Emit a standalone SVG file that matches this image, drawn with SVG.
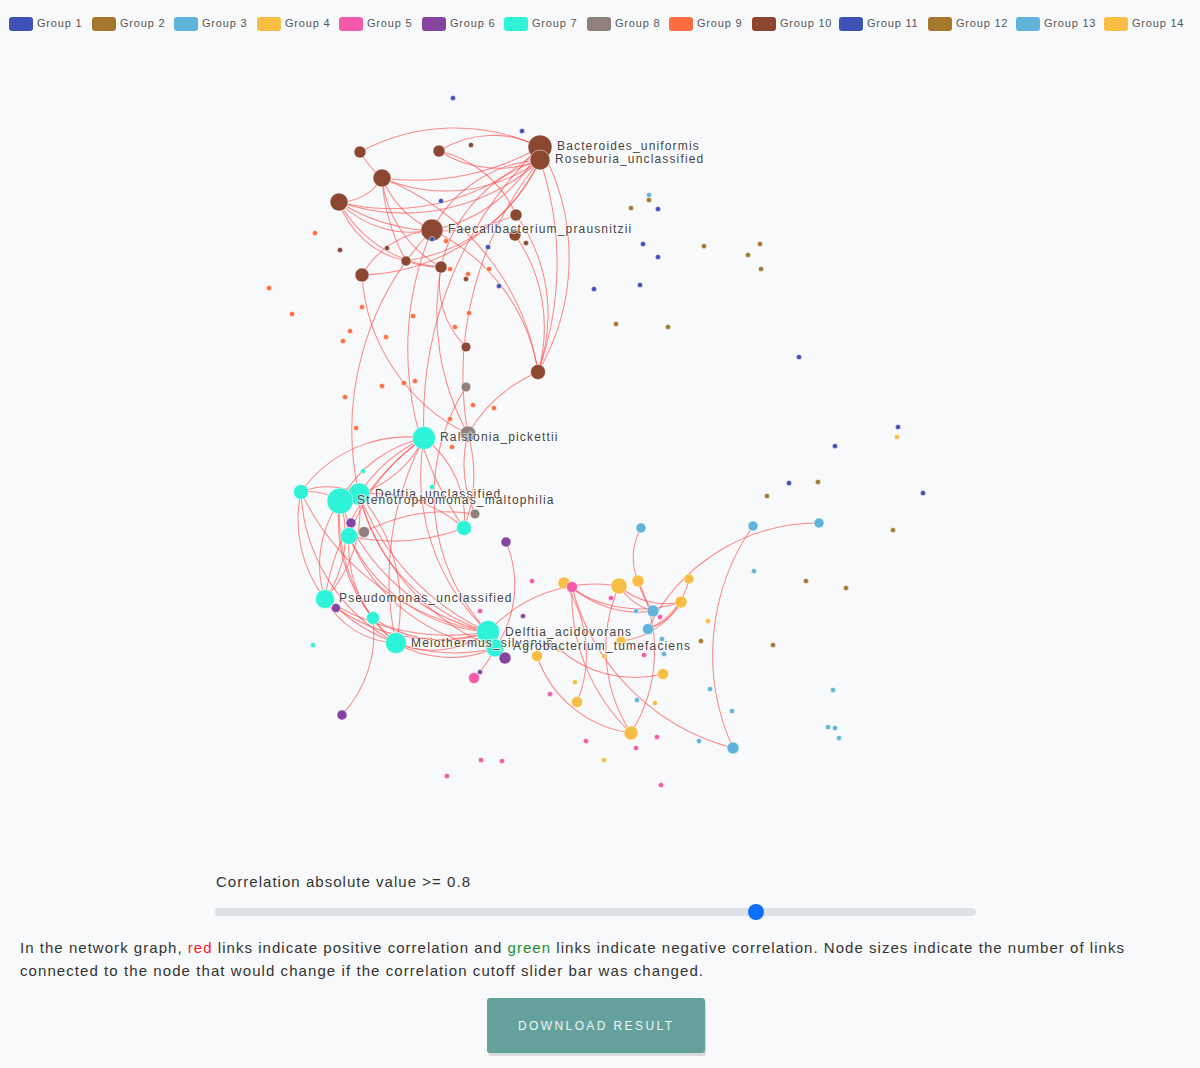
<svg xmlns="http://www.w3.org/2000/svg" width="1200" height="1068" viewBox="0 0 1200 1068">
<style>
.lg{font-family:"Liberation Sans",Arial,sans-serif;font-size:11px;fill:#555;letter-spacing:0.8px}
.l{fill:none;stroke:#ff4545;stroke-opacity:0.62;stroke-width:1.05}
.n{stroke:#fff;stroke-width:0.8;stroke-opacity:0.6}
.g1{fill:#3f51b5}.g2{fill:#a5782e}.g3{fill:#60b4d9}.g4{fill:#f8bd45}.g5{fill:#f45aa9}.g6{fill:#8544a1}.g7{fill:#2ff3d8}.g8{fill:#917f7c}.g9{fill:#fe6e40}.g10{fill:#8c4731}
.lab{font-family:"Liberation Sans",Arial,sans-serif;font-size:12px;fill:#444;letter-spacing:1.15px;stroke:#fff;stroke-width:2px;stroke-opacity:0.6;paint-order:stroke}
.t{font-family:"Liberation Sans",Arial,sans-serif;font-size:15px;fill:#333}
</style>
<rect width="1200" height="1068" fill="#f8f9fa"/>
<g id="legend">
<rect x="9" y="17" width="24" height="14" rx="3" class="g1"/><text x="37" y="27" class="lg">Group 1</text>
<rect x="92" y="17" width="24" height="14" rx="3" class="g2"/><text x="120" y="27" class="lg">Group 2</text>
<rect x="174" y="17" width="24" height="14" rx="3" class="g3"/><text x="202" y="27" class="lg">Group 3</text>
<rect x="257" y="17" width="24" height="14" rx="3" class="g4"/><text x="285" y="27" class="lg">Group 4</text>
<rect x="339" y="17" width="24" height="14" rx="3" class="g5"/><text x="367" y="27" class="lg">Group 5</text>
<rect x="422" y="17" width="24" height="14" rx="3" class="g6"/><text x="450" y="27" class="lg">Group 6</text>
<rect x="504" y="17" width="24" height="14" rx="3" class="g7"/><text x="532" y="27" class="lg">Group 7</text>
<rect x="587" y="17" width="24" height="14" rx="3" class="g8"/><text x="615" y="27" class="lg">Group 8</text>
<rect x="669" y="17" width="24" height="14" rx="3" class="g9"/><text x="697" y="27" class="lg">Group 9</text>
<rect x="752" y="17" width="24" height="14" rx="3" class="g10"/><text x="780" y="27" class="lg">Group 10</text>
<rect x="839" y="17" width="24" height="14" rx="3" class="g1"/><text x="867" y="27" class="lg">Group 11</text>
<rect x="928" y="17" width="24" height="14" rx="3" class="g2"/><text x="956" y="27" class="lg">Group 12</text>
<rect x="1016" y="17" width="24" height="14" rx="3" class="g3"/><text x="1044" y="27" class="lg">Group 13</text>
<rect x="1104" y="17" width="24" height="14" rx="3" class="g4"/><text x="1132" y="27" class="lg">Group 14</text>
</g>
<g id="links">
<path class="l" d="M360,152 A200,200 0 0,1 540,147"/>
<path class="l" d="M360,152 A100,100 0 0,0 382,178"/>
<path class="l" d="M439,151 A101,101 0 0,1 540,147"/>
<path class="l" d="M439,151 A110,110 0 0,0 540,160"/>
<path class="l" d="M382,178 A160,160 0 0,0 540,160"/>
<path class="l" d="M382,178 A250,250 0 0,0 540,147"/>
<path class="l" d="M339,202 A50,50 0 0,0 382,178"/>
<path class="l" d="M339,202 A210,210 0 0,0 540,147"/>
<path class="l" d="M339,202 A200,200 0 0,0 540,160"/>
<path class="l" d="M339,202 A100,100 0 0,0 432,230"/>
<path class="l" d="M339,202 A90,90 0 0,0 406,261"/>
<path class="l" d="M339,202 A125,125 0 0,0 441,267"/>
<path class="l" d="M339,202 A190,190 0 0,0 516,215"/>
<path class="l" d="M382,178 A200,200 0 0,0 406,261"/>
<path class="l" d="M382,178 A115,115 0 0,0 441,267"/>
<path class="l" d="M382,178 A100,100 0 0,0 432,230"/>
<path class="l" d="M432,230 A130,130 0 0,1 540,160"/>
<path class="l" d="M432,230 A150,150 0 0,0 540,147"/>
<path class="l" d="M362,275 A205,205 0 0,0 540,160"/>
<path class="l" d="M362,275 A90,90 0 0,1 432,230"/>
<path class="l" d="M406,261 A100,100 0 0,0 441,267"/>
<path class="l" d="M406,261 A175,175 0 0,0 540,160"/>
<path class="l" d="M441,267 A145,145 0 0,1 540,160"/>
<path class="l" d="M441,267 A88,88 0 0,0 466,347"/>
<path class="l" d="M540,147 A225,225 0 0,1 538,372"/>
<path class="l" d="M540,160 A320,320 0 0,1 538,372"/>
<path class="l" d="M516,215 A170,170 0 0,1 538,372"/>
<path class="l" d="M439,151 A110,110 0 0,1 516,215"/>
<path class="l" d="M432,230 A190,190 0 0,1 538,372"/>
<path class="l" d="M382,178 A250,250 0 0,1 538,372"/>
<path class="l" d="M515,235 A160,160 0 0,1 538,372"/>
<path class="l" d="M362,275 A190,190 0 0,0 468,434"/>
<path class="l" d="M432,230 A290,290 0 0,0 359,494"/>
<path class="l" d="M540,160 A340,340 0 0,0 468,434"/>
<path class="l" d="M540,147 A380,380 0 0,0 424,438"/>
<path class="l" d="M538,372 A150,150 0 0,0 468,434"/>
<path class="l" d="M441,267 A250,250 0 0,0 468,434"/>
<path class="l" d="M432,230 A310,310 0 0,0 464,528"/>
<path class="l" d="M466,387 A200,200 0 0,0 488,632"/>
<path class="l" d="M424,438 A130,130 0 0,0 301,492"/>
<path class="l" d="M424,438 A125,125 0 0,0 340,501"/>
<path class="l" d="M424,438 A110,110 0 0,1 359,494"/>
<path class="l" d="M424,438 A160,160 0 0,0 359,494"/>
<path class="l" d="M424,438 A200,200 0 0,0 349,536"/>
<path class="l" d="M424,438 A240,240 0 0,0 325,599"/>
<path class="l" d="M424,438 A100,100 0 0,1 464,528"/>
<path class="l" d="M424,438 A215,215 0 0,0 488,632"/>
<path class="l" d="M424,438 A300,300 0 0,0 396,643"/>
<path class="l" d="M301,492 A60,60 0 0,1 340,501"/>
<path class="l" d="M301,492 A70,70 0 0,1 359,494"/>
<path class="l" d="M301,492 A180,180 0 0,0 396,643"/>
<path class="l" d="M301,492 A250,250 0 0,0 488,632"/>
<path class="l" d="M301,492 A130,130 0 0,0 325,599"/>
<path class="l" d="M340,501 A110,110 0 0,0 325,599"/>
<path class="l" d="M340,501 A110,110 0 0,1 325,599"/>
<path class="l" d="M340,501 A170,170 0 0,0 396,643"/>
<path class="l" d="M359,494 A170,170 0 0,1 396,643"/>
<path class="l" d="M340,501 A205,205 0 0,0 488,632"/>
<path class="l" d="M359,494 A190,190 0 0,0 488,632"/>
<path class="l" d="M359,494 A250,250 0 0,0 488,632"/>
<path class="l" d="M359,494 A230,230 0 0,0 495,648"/>
<path class="l" d="M340,501 A150,150 0 0,0 373,618"/>
<path class="l" d="M359,494 A130,130 0 0,1 325,599"/>
<path class="l" d="M349,536 A165,165 0 0,0 488,632"/>
<path class="l" d="M349,536 A125,125 0 0,0 396,643"/>
<path class="l" d="M349,536 A180,180 0 0,0 495,648"/>
<path class="l" d="M325,599 A85,85 0 0,0 396,643"/>
<path class="l" d="M325,599 A175,175 0 0,0 488,632"/>
<path class="l" d="M325,599 A230,230 0 0,0 488,632"/>
<path class="l" d="M373,618 A125,125 0 0,0 488,632"/>
<path class="l" d="M396,643 A95,95 0 0,0 488,632"/>
<path class="l" d="M396,643 A110,110 0 0,0 495,648"/>
<path class="l" d="M336,607 A175,175 0 0,0 495,648"/>
<path class="l" d="M464,528 A200,200 0 0,1 349,536"/>
<path class="l" d="M464,528 A140,140 0 0,0 359,494"/>
<path class="l" d="M475,514 A180,180 0 0,0 364,532"/>
<path class="l" d="M475,514 A120,120 0 0,1 468,434"/>
<path class="l" d="M464,528 A150,150 0 0,0 468,434"/>
<path class="l" d="M342,715 A120,120 0 0,0 373,618"/>
<path class="l" d="M506,542 A110,110 0 0,1 495,648"/>
<path class="l" d="M495,648 A100,100 0 0,1 474,678"/>
<path class="l" d="M488,632 A145,145 0 0,1 619,586"/>
<path class="l" d="M641,528 A60,60 0 0,0 638,581"/>
<path class="l" d="M638,581 A80,80 0 0,0 653,611"/>
<path class="l" d="M619,586 A70,70 0 0,0 681,602"/>
<path class="l" d="M572,587 A100,100 0 0,0 653,611"/>
<path class="l" d="M564,583 A125,125 0 0,0 681,602"/>
<path class="l" d="M619,586 A60,60 0 0,0 653,611"/>
<path class="l" d="M689,579 A70,70 0 0,1 648,629"/>
<path class="l" d="M681,602 A80,80 0 0,1 621,641"/>
<path class="l" d="M681,602 A60,60 0 0,1 648,629"/>
<path class="l" d="M753,526 A225,225 0 0,0 733,748"/>
<path class="l" d="M819,523 A190,190 0 0,0 648,629"/>
<path class="l" d="M564,583 A125,125 0 0,1 577,702"/>
<path class="l" d="M572,587 A190,190 0 0,0 631,733"/>
<path class="l" d="M572,587 A225,225 0 0,0 733,748"/>
<path class="l" d="M537,656 A115,115 0 0,0 631,733"/>
<path class="l" d="M619,586 A155,155 0 0,0 631,733"/>
<path class="l" d="M638,581 A155,155 0 0,1 631,733"/>
<path class="l" d="M559,649 A115,115 0 0,0 663,674"/>
</g>
<g id="nodes">
<g id="small-nodes">
<circle class="n g1" cx="453" cy="98" r="2.6"/><circle class="n g1" cx="522" cy="131" r="2.6"/><circle class="n g1" cx="441" cy="201" r="2.6"/><circle class="n g1" cx="488" cy="247" r="2.6"/><circle class="n g1" cx="499" cy="286" r="2.6"/><circle class="n g1" cx="658" cy="209" r="2.6"/><circle class="n g1" cx="643" cy="244" r="2.6"/><circle class="n g1" cx="658" cy="257" r="2.6"/><circle class="n g1" cx="594" cy="289" r="2.6"/><circle class="n g1" cx="640" cy="285" r="2.6"/><circle class="n g1" cx="799" cy="357" r="2.6"/><circle class="n g1" cx="898" cy="427" r="2.6"/><circle class="n g1" cx="835" cy="446" r="2.6"/><circle class="n g1" cx="789" cy="483" r="2.6"/><circle class="n g1" cx="923" cy="493" r="2.6"/>
<circle class="n g2" cx="631" cy="208" r="2.6"/><circle class="n g2" cx="649" cy="200" r="2.6"/><circle class="n g2" cx="704" cy="246" r="2.6"/><circle class="n g2" cx="760" cy="244" r="2.6"/><circle class="n g2" cx="748" cy="255" r="2.6"/><circle class="n g2" cx="761" cy="269" r="2.6"/><circle class="n g2" cx="616" cy="324" r="2.6"/><circle class="n g2" cx="668" cy="327" r="2.6"/><circle class="n g2" cx="818" cy="482" r="2.6"/><circle class="n g2" cx="767" cy="496" r="2.6"/><circle class="n g2" cx="893" cy="530" r="2.6"/><circle class="n g2" cx="806" cy="581" r="2.6"/><circle class="n g2" cx="846" cy="588" r="2.6"/><circle class="n g2" cx="701" cy="641" r="2.6"/><circle class="n g2" cx="773" cy="645" r="2.6"/>
<circle class="n g3" cx="649" cy="195" r="2.6"/><circle class="n g3" cx="636" cy="611" r="2.6"/><circle class="n g3" cx="662" cy="639" r="2.6"/><circle class="n g3" cx="664" cy="654" r="2.6"/><circle class="n g3" cx="754" cy="571" r="2.6"/><circle class="n g3" cx="637" cy="700" r="2.6"/><circle class="n g3" cx="710" cy="689" r="2.6"/><circle class="n g3" cx="732" cy="711" r="2.6"/><circle class="n g3" cx="699" cy="741" r="2.6"/><circle class="n g3" cx="833" cy="690" r="2.6"/><circle class="n g3" cx="828" cy="727" r="2.6"/><circle class="n g3" cx="835" cy="728" r="2.6"/><circle class="n g3" cx="839" cy="738" r="2.6"/>
<circle class="n g4" cx="897" cy="437" r="2.6"/><circle class="n g4" cx="604" cy="656" r="2.6"/><circle class="n g4" cx="575" cy="682" r="2.6"/><circle class="n g4" cx="655" cy="703" r="2.6"/><circle class="n g4" cx="604" cy="760" r="2.6"/><circle class="n g4" cx="708" cy="621" r="2.6"/><circle class="n g4" cx="559" cy="649" r="3"/>
<circle class="n g5" cx="532" cy="581" r="2.6"/><circle class="n g5" cx="611" cy="598" r="2.6"/><circle class="n g5" cx="660" cy="617" r="2.6"/><circle class="n g5" cx="644" cy="655" r="2.6"/><circle class="n g5" cx="550" cy="694" r="2.6"/><circle class="n g5" cx="586" cy="741" r="2.6"/><circle class="n g5" cx="636" cy="748" r="2.6"/><circle class="n g5" cx="657" cy="737" r="2.6"/><circle class="n g5" cx="481" cy="760" r="2.6"/><circle class="n g5" cx="502" cy="761" r="2.6"/><circle class="n g5" cx="661" cy="785" r="2.6"/><circle class="n g5" cx="480" cy="611" r="2.6"/><circle class="n g5" cx="447" cy="776" r="2.6"/>
<circle class="n g6" cx="523" cy="616" r="2.6"/><circle class="n g6" cx="480" cy="672" r="2.6"/>
<circle class="n g7" cx="363" cy="471" r="2.6"/><circle class="n g7" cx="432" cy="487" r="2.6"/><circle class="n g7" cx="313" cy="645" r="2.6"/>
<circle class="n g9" cx="315" cy="233" r="2.6"/><circle class="n g9" cx="446" cy="241" r="2.6"/><circle class="n g9" cx="450" cy="269" r="2.6"/><circle class="n g9" cx="468" cy="274" r="2.6"/><circle class="n g9" cx="489" cy="269" r="2.6"/><circle class="n g9" cx="269" cy="288" r="2.6"/><circle class="n g9" cx="292" cy="314" r="2.6"/><circle class="n g9" cx="362" cy="307" r="2.6"/><circle class="n g9" cx="350" cy="331" r="2.6"/><circle class="n g9" cx="343" cy="341" r="2.6"/><circle class="n g9" cx="386" cy="337" r="2.6"/><circle class="n g9" cx="413" cy="316" r="2.6"/><circle class="n g9" cx="469" cy="313" r="2.6"/><circle class="n g9" cx="455" cy="327" r="2.6"/><circle class="n g9" cx="382" cy="386" r="2.6"/><circle class="n g9" cx="404" cy="383" r="2.6"/><circle class="n g9" cx="415" cy="381" r="2.6"/><circle class="n g9" cx="345" cy="397" r="2.6"/><circle class="n g9" cx="356" cy="428" r="2.6"/><circle class="n g9" cx="473" cy="405" r="2.6"/><circle class="n g9" cx="494" cy="408" r="2.6"/><circle class="n g9" cx="450" cy="419" r="2.6"/><circle class="n g9" cx="452" cy="447" r="2.6"/>
<circle class="n g10" cx="471" cy="145" r="2.6"/><circle class="n g10" cx="526" cy="243" r="2.6"/><circle class="n g10" cx="340" cy="250" r="2.6"/><circle class="n g10" cx="387" cy="248" r="2.6"/><circle class="n g10" cx="466" cy="279" r="2.6"/>
</g>
<g id="brown-nodes">
<circle class="n g10" cx="360" cy="152" r="6"/><circle class="n g10" cx="439" cy="151" r="6"/><circle class="n g10" cx="382" cy="178" r="9"/><circle class="n g10" cx="339" cy="202" r="9"/><circle class="n g10" cx="516" cy="215" r="6"/><circle class="n g10" cx="515" cy="235" r="6"/><circle class="n g10" cx="406" cy="261" r="5"/><circle class="n g10" cx="441" cy="267" r="6"/><circle class="n g10" cx="362" cy="275" r="7"/><circle class="n g10" cx="466" cy="347" r="4.8"/><circle class="n g10" cx="538" cy="372" r="7.5"/>
</g>
<g id="Bacteroides_uniformis"><circle class="n g10" cx="540" cy="147" r="12"/></g>
<g id="Roseburia_unclassified"><circle class="n g10" cx="540" cy="160" r="10"/></g>
<g id="Faecalibacterium_prausnitzii"><circle class="n g10" cx="432" cy="230" r="11"/></g>
<circle class="n g1" cx="432" cy="239" r="2.6"/>
<g id="gray-nodes">
<circle class="n g8" cx="466" cy="387" r="4.8"/><circle class="n g8" cx="475" cy="514" r="4.8"/><circle class="n g8" cx="364" cy="532" r="5.5"/>
</g>
<g id="Ralstonia_pickettii"><circle class="n g7" cx="424" cy="438" r="11.5"/></g>
<circle class="n g8" cx="468" cy="434" r="8"/>
<g id="cyan-nodes">
<circle class="n g7" cx="301" cy="492" r="7.5"/><circle class="n g7" cx="464" cy="528" r="7.5"/><circle class="n g7" cx="373" cy="618" r="6.5"/>
</g>
<g id="Delftia_unclassified"><circle class="n g7" cx="359" cy="494" r="11"/></g>
<g id="Stenotrophomonas_maltophilia"><circle class="n g7" cx="340" cy="501" r="13"/></g>
<circle class="n g6" cx="351" cy="523" r="5"/>
<circle class="n g7" cx="349" cy="536" r="8.5"/>
<g id="Pseudomonas_unclassified"><circle class="n g7" cx="325" cy="599" r="9.5"/></g>
<circle class="n g6" cx="336" cy="608" r="4.5"/>
<g id="Meiothermus_silvanus"><circle class="n g7" cx="396" cy="643" r="10.5"/></g>
<g id="Delftia_acidovorans"><circle class="n g7" cx="488" cy="632" r="11.5"/></g>
<g id="Agrobacterium_tumefaciens"><circle class="n g7" cx="495" cy="648" r="9"/></g>
<g id="purple-nodes">
<circle class="n g6" cx="506" cy="542" r="5"/><circle class="n g6" cx="505" cy="658" r="6"/><circle class="n g6" cx="342" cy="715" r="5"/>
</g>
<circle class="n g5" cx="474" cy="678" r="5.5"/>
<g id="bottom-right-nodes">
<circle class="n g4" cx="564" cy="583" r="6"/><circle class="n g5" cx="572" cy="587" r="5.5"/><circle class="n g4" cx="619" cy="586" r="8"/><circle class="n g4" cx="638" cy="581" r="6"/><circle class="n g4" cx="689" cy="579" r="5"/><circle class="n g4" cx="681" cy="602" r="6"/><circle class="n g4" cx="537" cy="656" r="5.5"/><circle class="n g4" cx="621" cy="641" r="5"/><circle class="n g4" cx="663" cy="674" r="5.5"/><circle class="n g4" cx="577" cy="702" r="5.5"/><circle class="n g4" cx="631" cy="733" r="7"/>
<circle class="n g3" cx="641" cy="528" r="5"/><circle class="n g3" cx="753" cy="526" r="5"/><circle class="n g3" cx="819" cy="523" r="5"/><circle class="n g3" cx="653" cy="611" r="6"/><circle class="n g3" cx="648" cy="629" r="5.5"/><circle class="n g3" cx="733" cy="748" r="6"/>
</g>
</g>
<g id="labels">
<text class="lab" x="557" y="150">Bacteroides_uniformis</text>
<text class="lab" x="555" y="163">Roseburia_unclassified</text>
<text class="lab" x="448" y="233">Faecalibacterium_prausnitzii</text>
<text class="lab" x="440" y="441">Ralstonia_pickettii</text>
<text class="lab" x="375" y="498">Delftia_unclassified</text>
<text class="lab" x="357" y="504">Stenotrophomonas_maltophilia</text>
<text class="lab" x="339" y="602">Pseudomonas_unclassified</text>
<text class="lab" x="505" y="636">Delftia_acidovorans</text>
<text class="lab" x="411" y="647">Meiothermus_silvanus</text>
<text class="lab" x="513" y="650">Agrobacterium_tumefaciens</text>
</g>
<g id="controls">
<text class="t" x="216" y="887" textLength="254">Correlation absolute value &gt;= 0.8</text>
<rect x="215" y="908" width="761" height="8" rx="4" fill="#dee2e6"/>
<circle cx="756" cy="912" r="8" fill="#0d6efd"/>
<text class="t" x="20" y="953" textLength="1104">In the network graph, <tspan fill="#ff1a1a">red</tspan> links indicate positive correlation and <tspan fill="#1e8f2e">green</tspan> links indicate negative correlation. Node sizes indicate the number of links</text>
<text class="t" x="20" y="976" textLength="683">connected to the node that would change if the correlation cutoff slider bar was changed.</text>
<rect x="488" y="1001" width="218" height="55" rx="3" fill="#000" fill-opacity="0.12"/>
<rect x="487" y="998" width="218" height="55" rx="3" fill="#64a19d"/>
<text x="596" y="1030" text-anchor="middle" font-family="'Liberation Sans',Arial,sans-serif" font-size="12" letter-spacing="2" fill="#eef7f5" textLength="156">DOWNLOAD RESULT</text>
</g>
</svg>
